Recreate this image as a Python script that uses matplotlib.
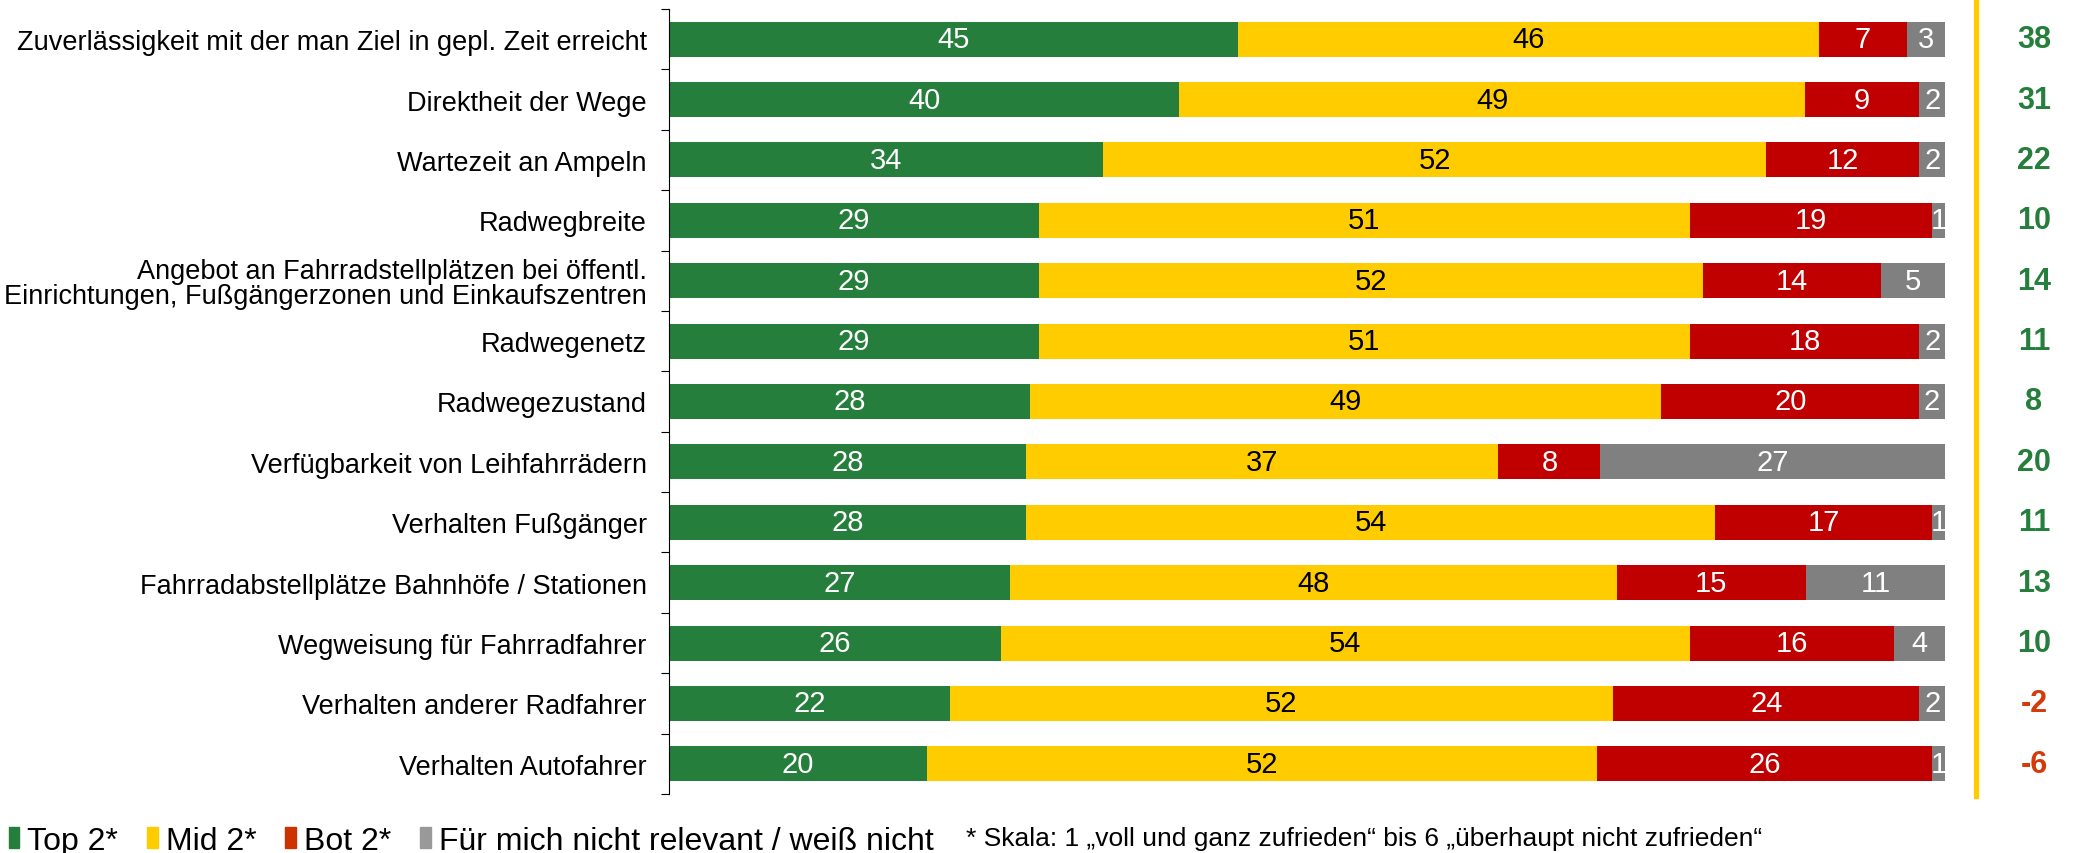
import matplotlib
matplotlib.use('Agg')
import matplotlib.pyplot as plt
import matplotlib.patches as mpatches
from matplotlib.lines import Line2D
import numpy as np

plt.rcParams['font.family'] = ['Liberation Sans', 'DejaVu Sans']

# -- Data --------------------------------------------------------------
categories = [
    "Zuverlässigkeit mit der man Ziel in gepl. Zeit erreicht",
    "Direktheit der Wege",
    "Wartezeit an Ampeln",
    "Radwegbreite",
    "Angebot an Fahrradstellplätzen bei öffentl.\nEinrichtungen, Fußgängerzonen und Einkaufszentren",
    "Radwegenetz",
    "Radwegezustand",
    "Verfügbarkeit von Leihfahrrädern",
    "Verhalten Fußgänger",
    "Fahrradabstellplätze Bahnhöfe / Stationen",
    "Wegweisung für Fahrradfahrer",
    "Verhalten anderer Radfahrer",
    "Verhalten Autofahrer",
]
top2 = [45, 40, 34, 29, 29, 29, 28, 28, 28, 27, 26, 22, 20]
mid2 = [46, 49, 52, 51, 52, 51, 49, 37, 54, 48, 54, 52, 52]
bot2 = [7, 9, 12, 19, 14, 18, 20, 8, 17, 15, 16, 24, 26]
na   = [3, 2, 2, 1, 5, 2, 2, 27, 1, 11, 4, 2, 1]
net  = [38, 31, 22, 10, 14, 11, 8, 20, 11, 13, 10, -2, -6]

series_names = ["Top 2*", "Mid 2*", "Bot 2*", "Für mich nicht relevant / weiß nicht"]
footnote = "* Skala: 1 \u201evoll und ganz zufrieden\u201c bis 6 \u201eüberhaupt nicht zufrieden\u201c"

# -- Colors ------------------------------------------------------------
C_GREEN = "#267E3C"
C_YELLOW = "#FFCC00"
C_RED = "#C00000"
C_GRAY = "#808080"
C_NEG = "#D43A0A"
seg_colors = [C_GREEN, C_YELLOW, C_RED, C_GRAY]
txt_colors = ["white", "black", "white", "white"]
leg_colors = [C_GREEN, C_YELLOW, "#CC3300", "#999999"]

# -- Figure ------------------------------------------------------------
W, H = 2089, 854
fig = plt.figure(figsize=(W / 100, H / 100), dpi=100)
ax = fig.add_axes([669 / W, 1 - 795 / H, (1945 - 669) / W, (795 - 10) / H])

vals = np.array([top2, mid2, bot2, na], dtype=float)
vals = vals / vals.sum(axis=0) * 100  # 100% stacked
raw = [top2, mid2, bot2, na]
y = np.arange(len(categories))
left = np.zeros(len(categories))
for k in range(4):
    ax.barh(y, vals[k], left=left, height=0.58, color=seg_colors[k],
            edgecolor='none')
    for i in range(len(categories)):
        ax.text(left[i] + vals[k][i] / 2, y[i], str(raw[k][i]),
                ha='center', va='center', color=txt_colors[k], fontsize=21)
    left += vals[k]

ax.set_xlim(0, 100)
ax.set_ylim(len(categories) - 0.5, -0.5)
ax.set_yticks(np.arange(-0.5, len(categories)), labels=[])
ax.set_yticks(y, labels=categories, minor=True)
ax.tick_params(axis='y', which='major', length=6, direction='out')
ax.tick_params(axis='y', which='minor', length=0, pad=16, labelsize=19.5)
for lbl in ax.get_yticklabels(minor=True):
    lbl.set_ha('right')
    lbl.set_multialignment('right')
    lbl.set_linespacing(0.95)
ax.xaxis.set_visible(False)
for s in ['top', 'right', 'bottom']:
    ax.spines[s].set_visible(False)

# net values on right
for i, v in enumerate(net):
    ax.text((2034 - 669) / (1945 - 669), y[i], str(v),
            transform=ax.get_yaxis_transform(), ha='center', va='center',
            fontsize=22, fontweight='bold',
            color=C_GREEN if v >= 0 else C_NEG)

# yellow separator line
fig.add_artist(Line2D([1976 / W, 1976 / W], [1, 1 - 797 / H],
                      color=C_YELLOW, linewidth=3.8))

# legend
handles = [mpatches.Patch(color=c, label=n) for c, n in zip(leg_colors, series_names)]
fig.legend(handles=handles, loc='lower left', bbox_to_anchor=(-0.002, -0.018),
           ncol=4, frameon=False, fontsize=23, handlelength=0.34,
           handleheight=0.67, handletextpad=0.25, columnspacing=0.9,
           borderaxespad=0)
fig.text(966 / W, 1 - 839 / H, footnote, fontsize=19, va='center', ha='left')

plt.savefig("out.png", dpi=100, facecolor='white')
plt.close()
